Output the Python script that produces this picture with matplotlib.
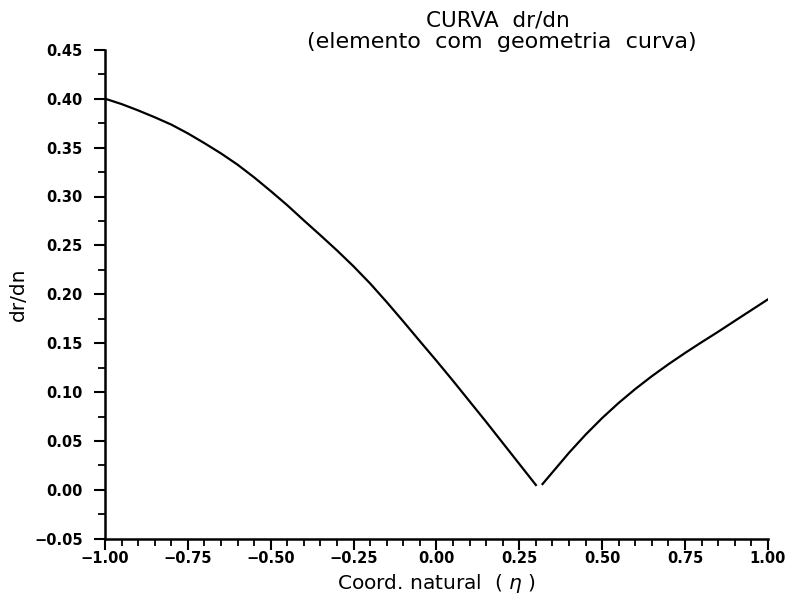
import matplotlib
matplotlib.use("Agg")
import matplotlib.pyplot as plt
from matplotlib.ticker import MultipleLocator, FuncFormatter

# ramo esquerdo (ate o minimo) e ramo direito da curva dr/dn
eta_left = [-1.00, -0.95, -0.90, -0.85, -0.80, -0.75, -0.70, -0.65, -0.60,
            -0.55, -0.50, -0.45, -0.40, -0.35, -0.30, -0.25, -0.20, -0.15,
            -0.10, -0.05, 0.00, 0.05, 0.10, 0.15, 0.20, 0.25, 0.30]
drdn_left = [0.400, 0.3945, 0.388, 0.381, 0.3735, 0.3645, 0.3545, 0.344,
             0.3325, 0.3195, 0.3055, 0.291, 0.2755, 0.2603, 0.2448, 0.2285,
             0.2110, 0.1920, 0.1722, 0.152, 0.132, 0.1115, 0.0905, 0.0695,
             0.048, 0.0265, 0.005]
eta_right = [0.32, 0.35, 0.40, 0.45, 0.50, 0.55, 0.60, 0.65, 0.70, 0.75,
             0.80, 0.85, 0.90, 0.95, 1.00]
drdn_right = [0.006, 0.018, 0.038, 0.0565, 0.0735, 0.089, 0.1032, 0.1163,
              0.1285, 0.140, 0.151, 0.1617, 0.1728, 0.1838, 0.1948]

x_ticks = [-1.0, -0.75, -0.5, -0.25, 0.0, 0.25, 0.5, 0.75, 1.0]
y_ticks = [-0.05, 0.0, 0.05, 0.10, 0.15, 0.20, 0.25, 0.30, 0.35, 0.40, 0.45]


def fmt(v, pos):
    return ("%.2f" % v).replace("-", "\u2212")


plt.rcParams['font.family'] = ['DejaVu Sans']

fig = plt.figure(figsize=(7.9, 6.0), dpi=100)
ax = fig.add_axes([0.133, 0.102, 0.839, 0.815])

ax.plot(eta_left, drdn_left, color="black", lw=1.6)
ax.plot(eta_right, drdn_right, color="black", lw=1.6)

ax.set_xlim(-1.0, 1.0)
ax.set_ylim(-0.05, 0.45)
ax.set_xticks(x_ticks)
ax.set_yticks(y_ticks)
ax.xaxis.set_major_formatter(FuncFormatter(fmt))
ax.yaxis.set_major_formatter(FuncFormatter(fmt))
ax.xaxis.set_minor_locator(MultipleLocator(0.05))
ax.yaxis.set_minor_locator(MultipleLocator(0.025))

ax.spines["right"].set_visible(False)
ax.spines["top"].set_visible(False)
ax.spines["left"].set_linewidth(1.8)
ax.spines["bottom"].set_linewidth(1.8)

ax.tick_params(which="major", direction="out", length=8, width=1.5,
               labelsize=10.5)
ax.tick_params(which="minor", direction="out", length=5, width=1.3)
ax.tick_params(axis="y", which="major", pad=8)
ax.tick_params(axis="x", which="major", pad=1)
for lab in ax.get_xticklabels() + ax.get_yticklabels():
    lab.set_fontweight("bold")

ax.set_xlabel(r"Coord. natural  ( $\eta$ )", fontsize=14.5)
ax.set_ylabel("dr/dn", fontsize=14.5)
ax.xaxis.set_label_coords(0.5, -0.068)
ax.yaxis.set_label_coords(-0.117, 0.5)

fig.text(0.630, 0.966, "CURVA  dr/dn", ha="center", va="center", fontsize=15.5)
fig.text(0.635, 0.930, "(elemento  com  geometria  curva)", ha="center",
         va="center", fontsize=16)

fig.savefig("out.png", dpi=100)
